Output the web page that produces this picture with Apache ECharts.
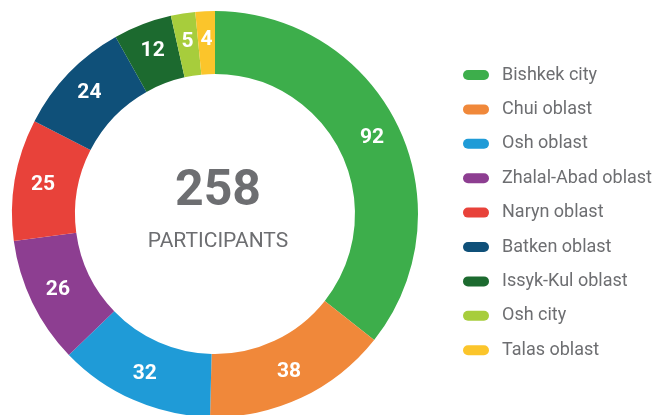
<!DOCTYPE html>
<html>
<head>
<meta charset="utf-8">
<script src="https://cdn.jsdelivr.net/npm/echarts@6/dist/echarts.min.js"></script>
<style>
  html, body { margin: 0; padding: 0; background: #fff; }
  #pie { width: 662px; height: 415px; }
</style>
</head>
<body>
<div id="pie"></div>
<script>
  const regions = ['Bishkek city', 'Chui oblast', 'Osh oblast', 'Zhalal-Abad oblast', 'Naryn oblast',
                   'Batken oblast', 'Issyk-Kul oblast', 'Osh city', 'Talas oblast']
  const participants = [92, 38, 32, 26, 25, 24, 12, 5, 4]
  const colors = ['#3dae4b', '#f0883a', '#1f9bd7', '#8d3e91', '#e8423a',
                  '#0f5079', '#1c6a2f', '#a7cd3c', '#fbc52b']
  const total = 258
  const totalLabel = 'PARTICIPANTS'

  let myChart = echarts.init(document.getElementById('pie'))

  let dataList = []
  for (let i = 0; i < regions.length; i++) {
    dataList.push({ name: regions[i], value: participants[i], itemStyle: { color: colors[i] } })
  }

  let option = {
    animation: false,
    legend: {
      orient: 'vertical',
      left: 458,
      top: 59,
      // capsule shaped markers
      icon: 'path://M5,0 H21 A5,5 0 0 1 21,10 H5 A5,5 0 0 1 5,0 Z',
      itemWidth: 26,
      itemHeight: 10,
      itemGap: 12.4,
      data: regions,
      textStyle: {
        color: '#6d6e71',
        fontSize: 18,
        lineHeight: 22,
        fontFamily: 'Roboto, sans-serif',
        padding: [0, 0, 0, 8]
      }
    },
    graphic: [
      {
        type: 'text',
        style: {
          text: String(total),
          x: 218, y: 192,
          align: 'center',
          verticalAlign: 'middle',
          fill: '#6d6e71',
          font: 'bold 50px Roboto, sans-serif'
        }
      },
      {
        type: 'text',
        style: {
          text: totalLabel,
          x: 218, y: 242,
          align: 'center',
          verticalAlign: 'middle',
          fill: '#6d6e71',
          font: '21px Roboto, sans-serif'
        }
      }
    ],
    series: [
      {
        type: 'pie',
        center: [215, 214],
        radius: [140, 203],
        startAngle: 90,
        clockwise: true,
        avoidLabelOverlap: false,
        itemStyle: { borderWidth: 0 },
        label: {
          show: true,
          position: 'inside',
          formatter: '{c}',
          color: '#fff',
          fontSize: 21,
          fontWeight: 'bold',
          fontFamily: 'Roboto, sans-serif'
        },
        labelLine: { show: false },
        emphasis: { disabled: true },
        data: dataList
      }
    ]
  }
  myChart.setOption(option)
</script>
</body>
</html>
